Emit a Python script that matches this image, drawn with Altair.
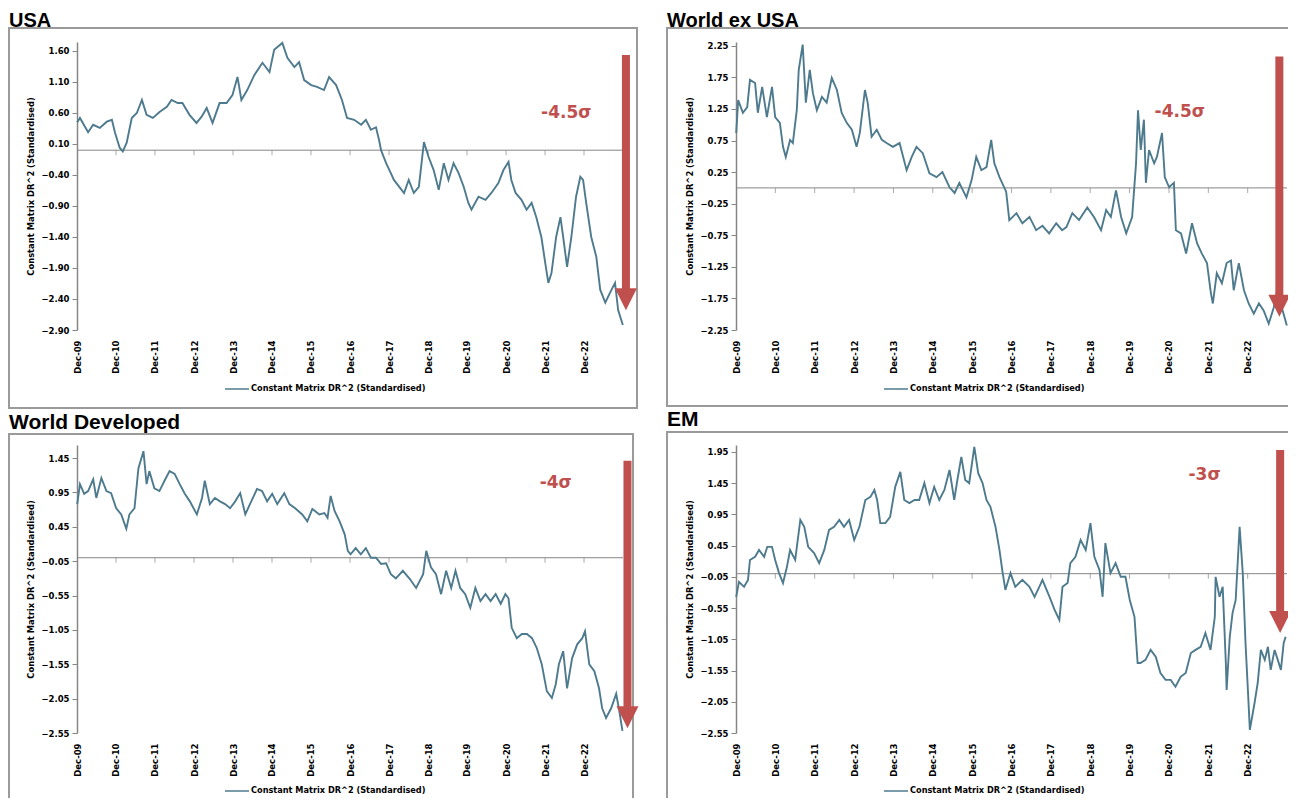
import altair as alt
import pandas as pd

# ---------------- data ----------------
PANEL_TITLES = ["USA", "World ex USA", "World Developed", "EM"]
SIGMA_LABELS = ["-4.5σ", "-4.5σ", "-4σ", "-3σ"]
SERIES_NAME = "Constant Matrix DR^2 (Standardised)"
X_TICK_YEARS = list(range(2009, 2023))  # Dec-09 ... Dec-22

# times as decimal years, values in standard deviations
USA_T = [2009.92, 2009.99, 2010.20, 2010.33, 2010.50, 2010.68, 2010.81, 2010.89, 2011.01, 2011.09,
         2011.19, 2011.32, 2011.45, 2011.58, 2011.70, 2011.86, 2012.04, 2012.22, 2012.34, 2012.50,
         2012.62, 2012.80, 2012.98, 2013.11, 2013.24, 2013.39, 2013.57, 2013.75, 2013.90, 2014.03,
         2014.13, 2014.28, 2014.46, 2014.67, 2014.85, 2014.97, 2015.18, 2015.31, 2015.49, 2015.61,
         2015.74, 2015.92, 2016.07, 2016.25, 2016.38, 2016.56, 2016.71, 2016.84, 2017.02, 2017.20,
         2017.32, 2017.45, 2017.58, 2017.66, 2017.71, 2017.84, 2017.96, 2018.04, 2018.30, 2018.42,
         2018.55, 2018.68, 2018.81, 2018.93, 2019.06, 2019.19, 2019.32, 2019.44, 2019.57, 2019.70,
         2019.83, 2019.95, 2020.03, 2020.21, 2020.39, 2020.54, 2020.72, 2020.85, 2020.98, 2021.05,
         2021.16, 2021.31, 2021.44, 2021.57, 2021.69, 2021.82, 2021.92, 2022.00, 2022.08, 2022.20,
         2022.31, 2022.38, 2022.48, 2022.59, 2022.71, 2022.82, 2022.89, 2022.97, 2023.10, 2023.23,
         2023.33, 2023.46, 2023.58, 2023.71, 2023.79, 2023.91]
USA_V = [0.45, 0.52, 0.29, 0.41, 0.36, 0.46, 0.49, 0.28, 0.04, -0.02,
         0.12, 0.52, 0.60, 0.81, 0.57, 0.52, 0.62, 0.70, 0.81, 0.76,
         0.76, 0.57, 0.44, 0.54, 0.68, 0.44, 0.76, 0.76, 0.89, 1.18,
         0.81, 0.97, 1.21, 1.41, 1.26, 1.62, 1.73, 1.49, 1.34, 1.42,
         1.13, 1.05, 1.02, 0.97, 1.18, 1.05, 0.81, 0.52, 0.49, 0.41,
         0.49, 0.33, 0.37, 0.16, 0.00, -0.21, -0.37, -0.48, -0.69, -0.48,
         -0.69, -0.59, 0.13, -0.11, -0.32, -0.64, -0.21, -0.48, -0.21, -0.37,
         -0.59, -0.85, -0.96, -0.75, -0.80, -0.69, -0.53, -0.32, -0.19, -0.48,
         -0.69, -0.80, -0.96, -0.85, -1.08, -1.40, -1.82, -2.14, -1.98, -1.40,
         -1.08, -1.40, -1.88, -1.40, -0.75, -0.43, -0.48, -0.85, -1.40, -1.72,
         -2.25, -2.46, -2.30, -2.14, -2.58, -2.82]

WXUS_T = [2009.92, 2009.97, 2010.09, 2010.20, 2010.27, 2010.40, 2010.47, 2010.58, 2010.70, 2010.83,
          2010.91, 2011.03, 2011.11, 2011.18, 2011.29, 2011.36, 2011.46, 2011.51, 2011.61, 2011.69,
          2011.79, 2011.87, 2011.97, 2012.10, 2012.22, 2012.35, 2012.48, 2012.60, 2012.73, 2012.86,
          2012.98, 2013.06, 2013.19, 2013.26, 2013.36, 2013.49, 2013.62, 2013.74, 2013.90, 2014.07,
          2014.25, 2014.38, 2014.50, 2014.66, 2014.83, 2015.01, 2015.16, 2015.34, 2015.47, 2015.59,
          2015.77, 2015.90, 2016.02, 2016.15, 2016.28, 2016.40, 2016.48, 2016.61, 2016.78, 2016.86,
          2017.04, 2017.19, 2017.37, 2017.54, 2017.70, 2017.87, 2018.05, 2018.20, 2018.31, 2018.46,
          2018.63, 2018.84, 2019.01, 2019.19, 2019.32, 2019.44, 2019.57, 2019.70, 2019.83, 2019.98,
          2020.08, 2020.13, 2020.20, 2020.28, 2020.33, 2020.41, 2020.54, 2020.61, 2020.74, 2020.81,
          2020.92, 2021.04, 2021.09, 2021.22, 2021.35, 2021.50, 2021.63, 2021.75, 2021.88, 2021.98,
          2022.03, 2022.13, 2022.26, 2022.38, 2022.49, 2022.56, 2022.69, 2022.82, 2022.94, 2023.07,
          2023.20, 2023.32, 2023.45, 2023.58, 2023.65, 2023.78, 2023.91]
WXUS_V = [0.87, 1.39, 1.19, 1.28, 1.71, 1.66, 1.19, 1.60, 1.12, 1.60,
          1.12, 1.03, 0.65, 0.49, 0.76, 0.71, 1.23, 1.87, 2.27, 1.35,
          1.87, 1.50, 1.23, 1.44, 1.35, 1.74, 1.55, 1.19, 1.03, 0.92,
          0.65, 0.87, 1.55, 1.35, 0.81, 0.92, 0.76, 0.71, 0.65, 0.71,
          0.28, 0.49, 0.65, 0.55, 0.23, 0.17, 0.25, 0.01, -0.08, 0.08,
          -0.15, 0.12, 0.49, 0.28, 0.33, 0.76, 0.39, 0.17, -0.06, -0.51,
          -0.40, -0.56, -0.46, -0.67, -0.60, -0.72, -0.56, -0.67, -0.62, -0.40,
          -0.51, -0.31, -0.46, -0.67, -0.35, -0.46, -0.04, -0.46, -0.72, -0.46,
          0.39, 1.23, 0.60, 1.08, 0.08, 0.60, 0.39, 0.49, 0.87, 0.17,
          0.01, 0.08, -0.67, -0.72, -1.04, -0.56, -0.88, -1.04, -1.19, -1.67,
          -1.83, -1.35, -1.51, -1.19, -1.15, -1.62, -1.19, -1.62, -1.83, -1.99,
          -1.83, -1.94, -2.15, -1.89, -1.67, -1.89, -2.18]

WD_T = [2009.92, 2009.99, 2010.10, 2010.20, 2010.33, 2010.41, 2010.54, 2010.67, 2010.79, 2010.92,
        2011.05, 2011.18, 2011.26, 2011.39, 2011.49, 2011.62, 2011.70, 2011.77, 2011.90, 2012.03,
        2012.16, 2012.29, 2012.42, 2012.55, 2012.68, 2012.81, 2012.99, 2013.12, 2013.19, 2013.32,
        2013.45, 2013.58, 2013.71, 2013.84, 2013.97, 2014.10, 2014.23, 2014.35, 2014.53, 2014.66,
        2014.79, 2014.92, 2015.05, 2015.23, 2015.36, 2015.51, 2015.69, 2015.82, 2015.95, 2016.13,
        2016.26, 2016.34, 2016.42, 2016.52, 2016.65, 2016.78, 2016.86, 2016.93, 2017.06, 2017.19,
        2017.32, 2017.45, 2017.58, 2017.71, 2017.84, 2017.96, 2018.09, 2018.27, 2018.45, 2018.61,
        2018.79, 2018.87, 2018.99, 2019.12, 2019.25, 2019.38, 2019.51, 2019.62, 2019.74, 2019.87,
        2020.00, 2020.13, 2020.26, 2020.39, 2020.52, 2020.65, 2020.78, 2020.90, 2020.98, 2021.06,
        2021.19, 2021.32, 2021.45, 2021.58, 2021.70, 2021.83, 2021.96, 2022.09, 2022.19, 2022.27,
        2022.38, 2022.48, 2022.61, 2022.74, 2022.87, 2022.94, 2023.05, 2023.18, 2023.30, 2023.38,
        2023.48, 2023.61, 2023.74, 2023.82, 2023.90]
WD_V = [0.78, 1.07, 0.93, 0.97, 1.14, 0.87, 1.16, 0.97, 0.94, 0.72,
        0.63, 0.42, 0.63, 0.72, 1.30, 1.55, 1.07, 1.26, 1.01, 0.97,
        1.12, 1.26, 1.22, 1.07, 0.93, 0.82, 0.63, 0.87, 1.12, 0.78,
        0.87, 0.82, 0.78, 0.72, 0.82, 0.94, 0.63, 0.78, 1.00, 0.97,
        0.82, 0.93, 0.78, 0.94, 0.78, 0.72, 0.63, 0.53, 0.71, 0.63,
        0.65, 0.58, 0.90, 0.68, 0.53, 0.34, 0.10, 0.05, 0.14, 0.05,
        0.14, 0.00, 0.00, -0.09, -0.08, -0.24, -0.30, -0.19, -0.31, -0.44,
        -0.24, 0.10, -0.14, -0.24, -0.53, -0.19, -0.44, -0.19, -0.44, -0.53,
        -0.73, -0.44, -0.63, -0.53, -0.63, -0.53, -0.67, -0.53, -0.59, -1.02,
        -1.17, -1.11, -1.11, -1.17, -1.31, -1.55, -1.94, -2.04, -1.84, -1.55,
        -1.36, -1.90, -1.46, -1.26, -1.17, -1.07, -1.55, -1.65, -1.90, -2.19,
        -2.33, -2.19, -1.98, -2.23, -2.52]

EM_T = [2009.92, 2009.99, 2010.12, 2010.22, 2010.27, 2010.40, 2010.50, 2010.63, 2010.71, 2010.83,
        2010.91, 2011.01, 2011.11, 2011.21, 2011.29, 2011.42, 2011.55, 2011.65, 2011.75, 2011.90,
        2012.03, 2012.16, 2012.28, 2012.41, 2012.54, 2012.66, 2012.79, 2012.92, 2013.05, 2013.20,
        2013.33, 2013.43, 2013.50, 2013.58, 2013.71, 2013.83, 2013.96, 2014.09, 2014.19, 2014.32,
        2014.45, 2014.57, 2014.70, 2014.83, 2014.95, 2015.08, 2015.21, 2015.34, 2015.46, 2015.54,
        2015.64, 2015.74, 2015.84, 2015.97, 2016.07, 2016.18, 2016.28, 2016.38, 2016.51, 2016.61,
        2016.68, 2016.76, 2016.89, 2017.01, 2017.19, 2017.37, 2017.50, 2017.62, 2017.70, 2017.88,
        2018.01, 2018.13, 2018.21, 2018.34, 2018.41, 2018.54, 2018.67, 2018.80, 2018.92, 2019.02,
        2019.15, 2019.23, 2019.30, 2019.43, 2019.56, 2019.69, 2019.81, 2019.92, 2020.04, 2020.12,
        2020.19, 2020.32, 2020.45, 2020.58, 2020.70, 2020.83, 2020.96, 2021.08, 2021.21, 2021.34,
        2021.47, 2021.59, 2021.72, 2021.84, 2021.97, 2022.08, 2022.10, 2022.20, 2022.28, 2022.36,
        2022.38, 2022.46, 2022.53, 2022.61, 2022.71, 2022.79, 2022.86, 2022.92, 2022.97, 2023.09,
        2023.17, 2023.25, 2023.35, 2023.43, 2023.50, 2023.60, 2023.68, 2023.76, 2023.83, 2023.88]
EM_V = [-0.37, -0.13, -0.21, -0.10, 0.22, 0.27, 0.38, 0.27, 0.43, 0.43,
        0.22, 0.01, -0.15, 0.11, 0.38, 0.22, 0.86, 0.75, 0.43, 0.33,
        0.17, 0.38, 0.70, 0.75, 0.86, 0.75, 0.86, 0.54, 0.75, 1.18,
        1.23, 1.34, 1.18, 0.81, 0.81, 0.91, 1.39, 1.63, 1.18, 1.13,
        1.18, 1.18, 1.45, 1.13, 1.39, 1.18, 1.34, 1.66, 1.18, 1.50,
        1.87, 1.50, 1.45, 2.03, 1.61, 1.45, 1.18, 1.07, 0.75, 0.38,
        0.06, -0.26, 0.01, -0.21, -0.10, -0.21, -0.37, -0.21, -0.10, -0.37,
        -0.58, -0.74, -0.21, -0.15, 0.17, 0.27, 0.54, 0.38, 0.81, 0.27,
        0.06, -0.37, 0.49, 0.01, 0.17, -0.05, -0.05, -0.42, -0.69, -1.43,
        -1.43, -1.38, -1.22, -1.33, -1.59, -1.70, -1.70, -1.81, -1.65, -1.59,
        -1.27, -1.22, -1.17, -0.95, -1.22, -0.69, -0.05, -0.37, -0.21, -1.43,
        -1.86, -1.01, -0.63, -0.42, 0.75, 0.01, -1.11, -1.86, -2.50, -2.07,
        -1.75, -1.22, -1.38, -1.17, -1.54, -1.22, -1.38, -1.54, -1.11, -1.01]

SERIES_T = [USA_T, WXUS_T, WD_T, EM_T]
SERIES_V = [USA_V, WXUS_V, WD_V, EM_V]

USA_YTICKS = [1.60, 1.10, 0.60, 0.10, -0.40, -0.90, -1.40, -1.90, -2.40, -2.90]
WXUS_YTICKS = [2.25, 1.75, 1.25, 0.75, 0.25, -0.25, -0.75, -1.25, -1.75, -2.25]
WD_YTICKS = [1.45, 0.95, 0.45, -0.05, -0.55, -1.05, -1.55, -2.05, -2.55]
EM_YTICKS = [1.95, 1.45, 0.95, 0.45, -0.05, -0.55, -1.05, -1.55, -2.05, -2.55]
Y_TICKS = [USA_YTICKS, WXUS_YTICKS, WD_YTICKS, EM_YTICKS]
Y_DOMAINS = [[-2.90, 1.745], [-2.25, 2.31], [-2.55, 1.64], [-2.55, 2.06]]

# red arrow annotations (decimal year, top value, tip value) and sigma label position
ARROW_T = [2023.99, 2023.72, 2024.03, 2023.74]
ARROW_TOP = [1.535, 2.08, 1.41, 1.98]
ARROW_TIP = [-2.58, -2.04, -2.48, -0.95]
LABEL_T = [2022.46, 2021.19, 2022.19, 2021.82]
LABEL_V = [0.60, 1.20, 1.09, 1.58]

# ---------------- styling / layout ----------------
LINE = "#4e7a8e"
RED = "#c0504d"
AXC = "#868686"
BOXC = "#9a9a9a"
SMALL_FONT = "DejaVu Sans"
TITLE_FONT = "Liberation Sans"
WIDTHS = [546, 551, 546, 551]
HEIGHT = 288
BOXES = [(-68, -14, 560, 366), (-69, -14, 561, 364), (-68, -11, 556, 372), (-69, -13, 560, 372)]
TITLE_POS = [(-68, -15.5), (-69, -15.5), (-68, -16), (-69, -19)]
TITLE_SIZE = [20, 20, 21, 21]
LEGEND_Y = [347, 347, 346, 346]


def to_dates(years):
    out = []
    for y in years:
        base = int(y)
        out.append(pd.Timestamp(year=base, month=1, day=1) + pd.Timedelta(days=(y - base) * 365.25))
    return out


X_DOMAIN = [alt.DateTime(year=2009, month=12, date=1), alt.DateTime(year=2023, month=12, date=1)]
X_VALUES = [alt.DateTime(year=y, month=12, date=1) for y in X_TICK_YEARS]

X_AXIS = alt.Axis(values=X_VALUES, format="%b-%y", labelAngle=270, labelAlign="right",
                  labelBaseline="middle", domain=False, ticks=False, grid=False,
                  labelPadding=10, labelFont=SMALL_FONT, labelFontSize=8.5,
                  labelFontWeight="bold", labelColor="#000000", labelOverlap=False,
                  labelFlush=False, title=None)


def y_axis(i):
    return alt.Axis(values=Y_TICKS[i], format=".2f", title=SERIES_NAME, grid=False,
                    domainColor=AXC, domainWidth=1.5, tickColor=AXC, tickSize=5,
                    labelFont=SMALL_FONT, labelFontSize=8.5, labelFontWeight="bold",
                    labelColor="#000000", labelPadding=3, titleFont=SMALL_FONT,
                    titleFontSize=8.4, titleFontWeight="bold", titleColor="#000000",
                    titleX=-47, titleY=HEIGHT / 2, titleAngle=270, titleAlign="center",
                    titleBaseline="middle")


def xs(field):
    return alt.X(field, type="temporal", scale=alt.Scale(domain=X_DOMAIN), axis=X_AXIS, title=None)


def ys(field, i):
    return alt.Y(field, type="quantitative",
                 scale=alt.Scale(domain=Y_DOMAINS[i], nice=False, zero=False),
                 axis=y_axis(i), title=SERIES_NAME)


def panel(i):
    W = WIDTHS[i]
    one = pd.DataFrame({"k": [0]})
    df = pd.DataFrame({"date": to_dates(SERIES_T[i]), "value": SERIES_V[i]})

    # invisible anchor fixing the top of the layout bounds (page top edge)
    anchor = alt.Chart(one).mark_rule(strokeWidth=1, opacity=0, color="#ffffff").encode(
        x=alt.value(-60), x2=alt.value(0), y=alt.value(-34))

    bx1, by1, bx2, by2 = BOXES[i]
    box = alt.Chart(one).mark_rect(fill="#ffffff", fillOpacity=0, stroke=BOXC, strokeWidth=2).encode(
        x=alt.value(bx1), x2=alt.value(bx2), y=alt.value(by1), y2=alt.value(by2))

    zero_df = pd.DataFrame({"value": [0.0]})
    zero = alt.Chart(zero_df).mark_rule(color=AXC, strokeWidth=1).encode(
        x=alt.value(0), x2=alt.value(W), y=ys("value", i))

    tick_df = pd.DataFrame({"date": [pd.Timestamp(year=y, month=12, day=1) for y in X_TICK_YEARS[1:]],
                            "value": 0.0})
    ticks = alt.Chart(tick_df).mark_tick(orient="vertical", size=5, thickness=1, color=AXC,
                                         yOffset=2.5).encode(x=xs("date"), y=ys("value", i))

    line = alt.Chart(df).mark_line(color=LINE, strokeWidth=1.9).encode(
        x=xs("date"), y=ys("value", i))

    adf = pd.DataFrame({"date": to_dates([ARROW_T[i]]), "value": [ARROW_TOP[i]], "tip": [ARROW_TIP[i]]})
    shaft = alt.Chart(adf).mark_rule(color=RED, strokeWidth=8, strokeCap="butt", y2Offset=-20).encode(
        x=xs("date"), y=ys("value", i), y2="tip:Q")
    head = alt.Chart(adf).mark_point(shape="M-1,-1L1,-1L0,1Z", size=484, filled=True, color=RED,
                                     opacity=1, strokeWidth=0, yOffset=-11).encode(
        x=xs("date"), y=ys("tip", i))

    ldf = pd.DataFrame({"date": to_dates([LABEL_T[i]]), "value": [LABEL_V[i]]})
    label = alt.Chart(ldf).mark_text(text=SIGMA_LABELS[i], color=RED, font=SMALL_FONT, fontSize=17,
                                     fontWeight="bold", align="center", baseline="middle").encode(
        x=xs("date"), y=ys("value", i))

    tx, ty = TITLE_POS[i]
    title = alt.Chart(one).mark_text(text=PANEL_TITLES[i], font=TITLE_FONT, fontSize=TITLE_SIZE[i],
                                     fontWeight="bold", color="#000000", align="left",
                                     baseline="alphabetic").encode(x=alt.value(tx), y=alt.value(ty))

    ly = LEGEND_Y[i]
    leg_line = alt.Chart(one).mark_rule(color=LINE, strokeWidth=1.5).encode(
        x=alt.value(148), x2=alt.value(172), y=alt.value(ly))
    leg_text = alt.Chart(one).mark_text(text=SERIES_NAME, font=SMALL_FONT, fontSize=8.2,
                                        fontWeight="bold", color="#000000", align="left",
                                        baseline="middle").encode(x=alt.value(174), y=alt.value(ly))

    return alt.layer(anchor, box, zero, ticks, line, shaft, head, label, title, leg_line,
                     leg_text).properties(width=W, height=HEIGHT)


# negative right/bottom padding crops the panels at the page edge, like the reference crop
chart = alt.concat(*[panel(i) for i in range(4)], columns=2,
                   spacing=alt.RowColnumber(row=115, column=113), bounds="flush").properties(
    padding={"left": 0, "top": 0, "right": -10, "bottom": -20},
    background="#ffffff").configure_view(strokeWidth=0)

chart.save("out.html", embed_options={"renderer": "svg", "actions": False})
